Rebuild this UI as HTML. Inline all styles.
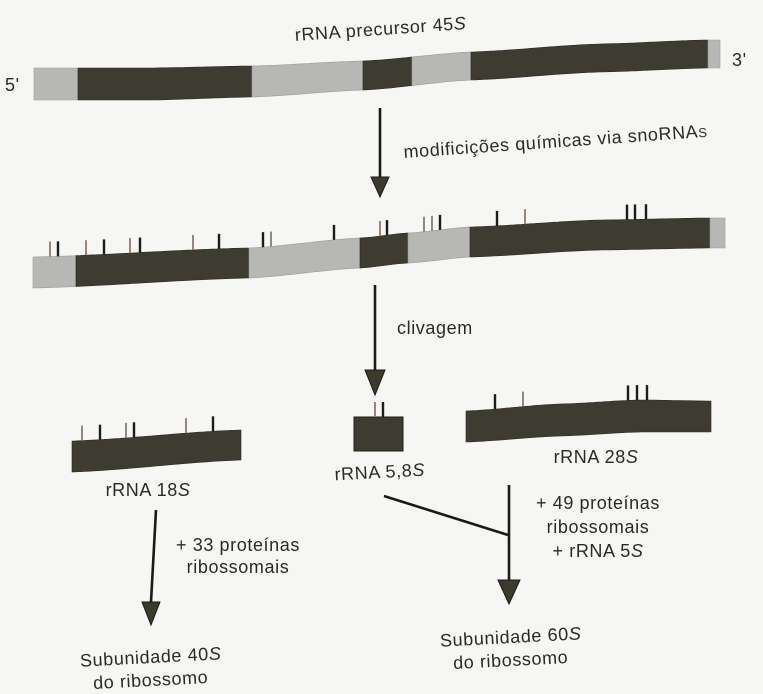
<!DOCTYPE html>
<html><head><meta charset="utf-8"><style>
html,body{margin:0;padding:0;background:#f6f6f4;}
svg{display:block;}
text{font-family:"Liberation Sans",sans-serif;fill:#2a2a28;font-size:18px;letter-spacing:0.6px;}
</style></head><body>
<svg id="s" width="763" height="694" viewBox="0 0 763 694" xmlns="http://www.w3.org/2000/svg">
<g id="g"></g>
<text x="381" y="35" text-anchor="middle" transform="rotate(-4 381 35)">rRNA precursor 45<tspan font-style="italic">S</tspan></text>
<text x="5" y="91">5'</text>
<text x="732" y="66">3'</text>
<text x="404" y="158" transform="rotate(-4 404 158)">modificições químicas via snoRNA<tspan font-size="13">S</tspan></text>
<text x="397" y="334">clivagem</text>
<text x="148" y="496" text-anchor="middle">rRNA 18<tspan font-style="italic">S</tspan></text>
<text x="380" y="478" text-anchor="middle" transform="rotate(-3 380 478)">rRNA 5,8<tspan font-style="italic">S</tspan></text>
<text x="596" y="463" text-anchor="middle">rRNA 28<tspan font-style="italic">S</tspan></text>
<text x="238" y="551" text-anchor="middle">+ 33 proteínas</text>
<text x="238" y="573" text-anchor="middle">ribossomais</text>
<text x="598" y="509" text-anchor="middle">+ 49 proteínas</text>
<text x="598" y="533" text-anchor="middle">ribossomais</text>
<text x="598" y="557" text-anchor="middle">+ rRNA 5<tspan font-style="italic">S</tspan></text>
<text x="151" y="663" text-anchor="middle" transform="rotate(-3 151 663)">Subunidade 40<tspan font-style="italic">S</tspan></text>
<text x="151" y="686" text-anchor="middle" transform="rotate(-3 151 686)">do ribossomo</text>
<text x="511" y="643" text-anchor="middle" transform="rotate(-3 511 643)">Subunidade 60<tspan font-style="italic">S</tspan></text>
<text x="511" y="666" text-anchor="middle" transform="rotate(-3 511 666)">do ribossomo</text>
</svg>
<script>
const NS="http://www.w3.org/2000/svg";
const g=document.getElementById('g');
const DARK="#3e3c31", LIGHT="#b7b7b5";
const bar1Top=[[34,68],[150,68],[252,66],[363,61],[471,52],[600,44],[708,40],[720,40]];
const bar1Bot=[[34,100],[150,100],[252,97],[363,90],[471,80],[600,72],[708,68],[720,68]];
const bar1Seg=[[34,78,0],[78,252,1],[252,363,0],[363,412,1],[412,471,0],[471,708,1],[708,720,0]];
const bar2Top=[[33,257],[249,248],[360,238],[408,233],[470,227],[600,220],[710,218],[725,218]];
const bar2Bot=[[33,288],[249,278],[360,268],[408,263],[470,257],[600,250],[710,248],[725,248]];
const bar2Seg=[[33,76,0],[76,249,1],[249,360,0],[360,408,1],[408,470,0],[470,710,1],[710,725,0]];
const ticks2=[[50,0],[58,1],[86,0],[104,1],[130,0],[140,1],[193,0],[219,1],[263,1],[271,0],[334,1],[380,0],[387,1],[424,0],[432,0],[440,1],[497,1],[525,0],[627,1],[635,1],[646,1]];
const b18Top=[[72,441],[241,430]], b18Bot=[[72,472],[241,460]];
const ticks18=[[82,0],[100,1],[126,0],[134,1],[186,0],[213,1]];
const b28Top=[[466,411],[560,404],[640,400],[711,401]], b28Bot=[[466,442],[560,436],[640,432],[711,432]];
const ticks28=[[495,1],[523,0],[628,1],[637,1],[647,1]];
function interp(pts,x){for(let i=0;i<pts.length-1;i++){const a=pts[i],b=pts[i+1];if(x>=a[0]&&x<=b[0]){const t=(x-a[0])/(b[0]-a[0]);const s=t*t*(3-2*t);return a[1]+(b[1]-a[1])*(0.5*t+0.5*s);}}return pts[pts.length-1][1];}
function mk(tag,attrs,name){const e=document.createElementNS(NS,tag);for(const k in attrs)e.setAttribute(k,attrs[k]);


g.appendChild(e);return e;}
function segPath(top,bot,x0,x1){let d="",xs=[];for(let x=x0;x<x1;x+=4)xs.push(x);xs.push(x1);
xs.forEach((x,i)=>{d+=(i?"L":"M")+x+","+interp(top,x).toFixed(1);});xs.slice().reverse().forEach(x=>{d+="L"+x+","+interp(bot,x).toFixed(1);});return d+"Z";}
function bar(top,bot,segs,name){segs.forEach((s,i)=>{mk('path',{d:segPath(top,bot,s[0],s[1]),fill:s[2]?DARK:LIGHT,stroke:s[2]?"#2a2a22":"#999",'stroke-width':0.6},name+'-segment-'+i);});}
function ticks(top,arr,name){arr.forEach((t,i)=>{const y=interp(top,t[0]);mk('line',{x1:t[0],x2:t[0],y1:y,y2:y-15,stroke:t[1]?"#1c1c1a":"#8d7a6c",'stroke-width':t[1]?2.4:1.8},name+'-mark-'+i);});}
bar(bar1Top,bar1Bot,bar1Seg,'precursor-bar');
bar(bar2Top,bar2Bot,bar2Seg,'modified-bar');ticks(bar2Top,ticks2,'modified-bar');
bar(b18Top,b18Bot,[[72,241,1]],'rrna-18s-bar');ticks(b18Top,ticks18,'rrna-18s');
mk('rect',{x:354,y:417,width:49,height:34,fill:DARK,stroke:'#1e1e1a','stroke-width':1},'rrna-58s-bar');
ticks([[354,417],[403,417]],[[375,0],[383,1]],'rrna-58s');
bar(b28Top,b28Bot,[[466,711,1]],'rrna-28s-bar');ticks(b28Top,ticks28,'rrna-28s');
function arrow(x0,y0,x1,y1,hy,hw,name){mk('line',{x1:x0,y1:y0,x2:x1,y2:hy,stroke:'#1a1a18','stroke-width':2.6},name+'-shaft');
mk('path',{d:`M${x1-hw},${hy}L${x1+hw},${hy}L${x1},${y1}Z`,fill:'#3b3a2c',stroke:'#1a1a18','stroke-width':1},name+'-head');}
arrow(380,108,380,197,177,9,'modification-arrow');
arrow(375,285,375,395,370,10,'cleavage-arrow');
arrow(156,510,151,625,602,9,'arrow-40s');
arrow(509,485,509,604,580,11,'arrow-60s');
mk('line',{x1:384,y1:496,x2:508,y2:535,stroke:'#1a1a18','stroke-width':2.6},'join-58s-line');
</script>
</body></html>
